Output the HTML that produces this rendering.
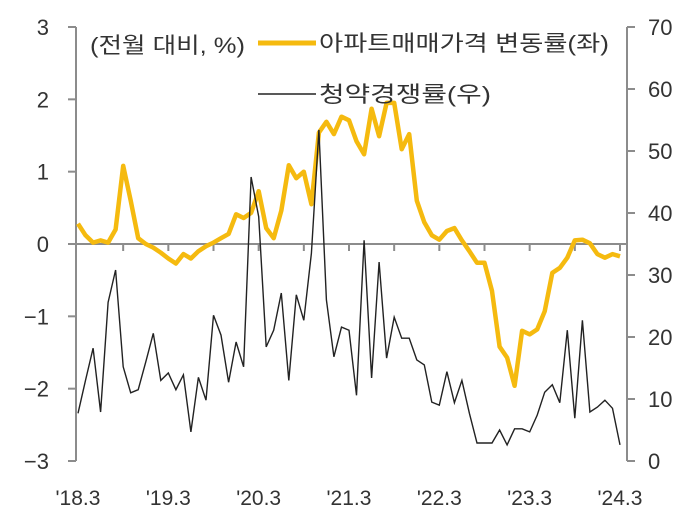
<!DOCTYPE html>
<html><head><meta charset="utf-8">
<style>
html,body{margin:0;padding:0;background:#fff;}
svg{display:block;font-family:"Liberation Sans Narrow","Liberation Sans","Noto Sans CJK KR",sans-serif;}
</style></head>
<body>
<svg id="chart" width="694" height="518" viewBox="0 0 694 518" xmlns="http://www.w3.org/2000/svg">
<g id="axes"></g>
<g id="series"></g>
<g id="legend">
  <text x="90" y="53" font-size="22" fill="#333" textLength="155" lengthAdjust="spacingAndGlyphs">(전월 대비, %)</text>
  <line x1="258" y1="43" x2="316" y2="43" stroke="#F5BA0F" stroke-width="5"/>
  <text x="319" y="51" font-size="22" fill="#333" textLength="290" lengthAdjust="spacingAndGlyphs">아파트매매가격 변동률(좌)</text>
  <line x1="258" y1="94" x2="316" y2="94" stroke="#222" stroke-width="1.5"/>
  <text x="319" y="102" font-size="22" fill="#333" textLength="172" lengthAdjust="spacingAndGlyphs">청약경쟁률(우)</text>
</g>
</svg>
<script>
const xLabels = ["'18.3","'19.3","'20.3","'21.3","'22.3","'23.3","'24.3"];
const leftTicks = [3,2,1,0,-1,-2,-3];
const rightTicks = [70,60,50,40,30,20,10,0];
const priceChange = [0.28,0.12,0.02,0.05,0.02,0.2,1.08,0.6,0.08,0.0,-0.05,-0.12,-0.2,-0.27,-0.14,-0.2,-0.1,-0.03,0.02,0.08,0.14,0.41,0.36,0.43,0.73,0.22,0.08,0.46,1.09,0.91,1.0,0.55,1.54,1.69,1.52,1.76,1.71,1.42,1.24,1.87,1.49,1.95,1.95,1.31,1.52,0.6,0.3,0.12,0.06,0.18,0.22,0.05,-0.1,-0.26,-0.26,-0.65,-1.42,-1.57,-1.96,-1.2,-1.25,-1.18,-0.93,-0.4,-0.33,-0.19,0.05,0.06,0.01,-0.14,-0.19,-0.14,-0.17];
const competitionRate = [7.7,13,18.2,7.9,25.6,30.8,15.2,11,11.5,16,20.6,13,14.2,11.5,13.9,4.7,13.5,9.8,23.5,20.3,12.7,19.2,15.2,45.8,39.4,18.4,21.1,27.1,13,26.8,22.7,33.5,53.4,26,16.8,21.6,21.1,10.6,35.6,13.4,32.1,16.6,23.2,19.8,19.8,16.3,15.5,9.5,9,14.4,9.4,13,7.7,2.9,2.9,2.9,5,2.6,5.2,5.2,4.7,7.4,11.1,12.3,9.4,21.1,6.9,22.7,7.9,8.7,9.8,8.5,2.6];

const NS="http://www.w3.org/2000/svg";
const X0=78, X1=620, YT=27, YB=461, AXL=76, AXR=627;
const n=priceChange.length;
const xS=i=>X0+(X1-X0)*i/(n-1);
const yL=v=>YB-(v+3)/6*(YB-YT);
const yR=v=>YB-v/70*(YB-YT);
function mk(tag,attrs,parent){const e=document.createElementNS(NS,tag);for(const k in attrs)e.setAttribute(k,attrs[k]);parent.appendChild(e);return e;}
const axes=document.getElementById('axes'), series=document.getElementById('series');
const grey="#8c8c8c";
let e;
e=mk('line',{x1:AXL,y1:YT,x2:AXL,y2:YB,stroke:grey,'stroke-width':2},axes);


e=mk('line',{x1:AXR,y1:YT,x2:AXR,y2:YB,stroke:grey,'stroke-width':2},axes);


leftTicks.forEach(v=>{
  const y=yL(v);
  e=mk('line',{x1:AXL-8,y1:y,x2:AXL,y2:y,stroke:grey,'stroke-width':2},axes);
  
  
  e=mk('text',{x:49,y:y+8,'text-anchor':'end','font-size':22,fill:'#333'},axes);
  e.textContent=v<0?'\u2212'+Math.abs(v):String(v);
  
  
});
rightTicks.forEach(v=>{
  const y=yR(v);
  e=mk('line',{x1:AXR,y1:y,x2:AXR+8,y2:y,stroke:grey,'stroke-width':2},axes);
  
  
  e=mk('text',{x:648,y:y+8,'font-size':22,fill:'#333'},axes);
  e.textContent=String(v);
  
  
});
e=mk('line',{x1:AXL,y1:yL(0),x2:AXR,y2:yL(0),stroke:grey,'stroke-width':2},axes);


for(let m=6;m<n;m+=6){
  const x=xS(m);
  e=mk('line',{x1:x,y1:yL(0),x2:x,y2:yL(0)+7,stroke:grey,'stroke-width':2},axes);
  
  
}
xLabels.forEach((t,k)=>{
  e=mk('text',{x:xS(k*12),y:505,'text-anchor':'middle','font-size':21,fill:'#333'},axes);
  e.textContent=t;
  
  
});
e=mk('polyline',{points:priceChange.map((v,i)=>xS(i).toFixed(1)+','+yL(v).toFixed(1)).join(' '),fill:'none',stroke:'#F5BA0F','stroke-width':4.5,'stroke-linejoin':'round'},series);


e=mk('polyline',{points:competitionRate.map((v,i)=>xS(i).toFixed(1)+','+yR(v).toFixed(1)).join(' '),fill:'none',stroke:'#222','stroke-width':1.4,'stroke-linejoin':'miter'},series);


</script>
</body></html>
